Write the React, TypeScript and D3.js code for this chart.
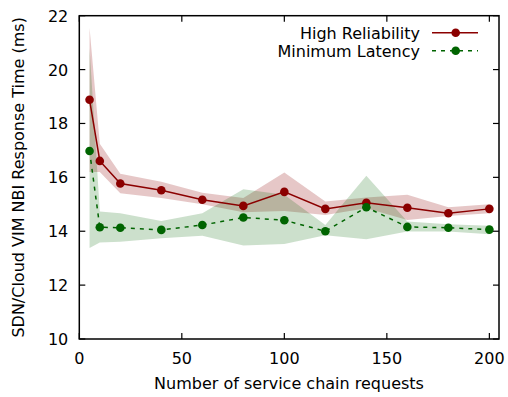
import React from "react";
import * as d3 from "d3";

const xs = [5, 10, 20, 40, 60, 80, 100, 120, 140, 160, 180, 200];
const hrMean = [18.88, 16.61, 15.77, 15.52, 15.17, 14.94, 15.46, 14.83, 15.06, 14.87, 14.67, 14.83];
const hrUpper = [21.55, 17.25, 16.13, 15.84, 15.43, 15.23, 16.18, 15.1, 15.25, 15.35, 14.89, 15.0];
const hrLower = [16.2, 16.2, 15.41, 15.23, 15.0, 14.7, 14.75, 14.6, 14.85, 14.42, 14.57, 14.67];
const mlMean = [16.98, 14.15, 14.13, 14.05, 14.23, 14.51, 14.41, 14.0, 14.89, 14.16, 14.13, 14.06];
const mlUpper = [20.8, 14.73, 14.67, 14.38, 14.67, 15.56, 15.35, 14.23, 16.06, 14.36, 14.26, 14.2];
const mlLower = [13.38, 13.58, 13.61, 13.74, 13.83, 13.47, 13.53, 13.85, 13.7, 13.99, 13.99, 13.89];
const xTicks = [0, 50, 100, 150, 200];
const yTicks = [10, 12, 14, 16, 18, 20, 22];

const RED = "#8b0000";
const GREEN = "#006400";
const FONT = "DejaVu Sans";
const FS = 16;

export default function App() {
  const W = 508, H = 397;
  const L = 79.3, R = 499, T = 15.7, B = 339;
  const x = d3.scaleLinear().domain([0, 204.7]).range([L, R]);
  const y = d3.scaleLinear().domain([10, 22]).range([B, T]);
  const line = d3.line<number>().x((_, i) => x(xs[i])).y((v) => y(v));
  const area = (lo: number[], hi: number[]) =>
    d3.area<number>().x((_, i) => x(xs[i])).y0((_, i) => y(lo[i])).y1((_, i) => y(hi[i]))(xs) as string;
  const tl = 6;
  return (
    <svg width={W} height={H} style={{ position: "absolute", left: 0, top: 0 }} fontFamily={FONT}>
      <rect width={W} height={H} fill="white" />
      <path d={area(hrLower, hrUpper)} fill={RED} fillOpacity={0.22} />
      <path d={area(mlLower, mlUpper)} fill={GREEN} fillOpacity={0.2} />
      <path d={line(hrMean) as string} fill="none" stroke={RED} strokeWidth={1.5} />
      <path d={line(mlMean) as string} fill="none" stroke={GREEN} strokeWidth={1.5} strokeDasharray="4,5" />
      {xs.map((v, i) => (
        <circle key={"r" + i} cx={x(v)} cy={y(hrMean[i])} r={4.3} fill={RED} />
      ))}
      {xs.map((v, i) => (
        <circle key={"g" + i} cx={x(v)} cy={y(mlMean[i])} r={4.3} fill={GREEN} />
      ))}
      {xTicks.map((t) => (
        <g key={"xt" + t}>
          <line x1={x(t)} x2={x(t)} y1={B} y2={B - tl} stroke="black" strokeWidth={1.2} />
          <line x1={x(t)} x2={x(t)} y1={T} y2={T + tl} stroke="black" strokeWidth={1.2} />
          <text x={x(t)} y={B + 25} fontSize={FS} textAnchor="middle" fill="black">{t}</text>
        </g>
      ))}
      {yTicks.map((t) => (
        <g key={"yt" + t}>
          <line x1={L} x2={L + tl} y1={y(t)} y2={y(t)} stroke="black" strokeWidth={1.2} />
          <line x1={R} x2={R - tl} y1={y(t)} y2={y(t)} stroke="black" strokeWidth={1.2} />
          <text x={L - 11} y={y(t) + 6} fontSize={FS} textAnchor="end" fill="black">{t}</text>
        </g>
      ))}
      <rect x={L} y={T} width={R - L} height={B - T} fill="none" stroke="black" strokeWidth={1.5} />
      <text x={289} y={389} fontSize={FS} textAnchor="middle" fill="black">Number of service chain requests</text>
      <text transform={`translate(24,${(T + B) / 2}) rotate(-90)`} fontSize={FS} textAnchor="middle" fill="black">SDN/Cloud VIM NBI Response Time (ms)</text>
      <text x={420} y={38.5} fontSize={FS} textAnchor="end" fill="black">High Reliability</text>
      <line x1={432} x2={478} y1={32.7} y2={32.7} stroke={RED} strokeWidth={1.5} />
      <circle cx={455.7} cy={32.7} r={4.3} fill={RED} />
      <text x={420} y={56.5} fontSize={FS} textAnchor="end" fill="black">Minimum Latency</text>
      <line x1={432} x2={478} y1={50.7} y2={50.7} stroke={GREEN} strokeWidth={1.5} strokeDasharray="4,5" />
      <circle cx={455.7} cy={50.7} r={4.3} fill={GREEN} />
    </svg>
  );
}
